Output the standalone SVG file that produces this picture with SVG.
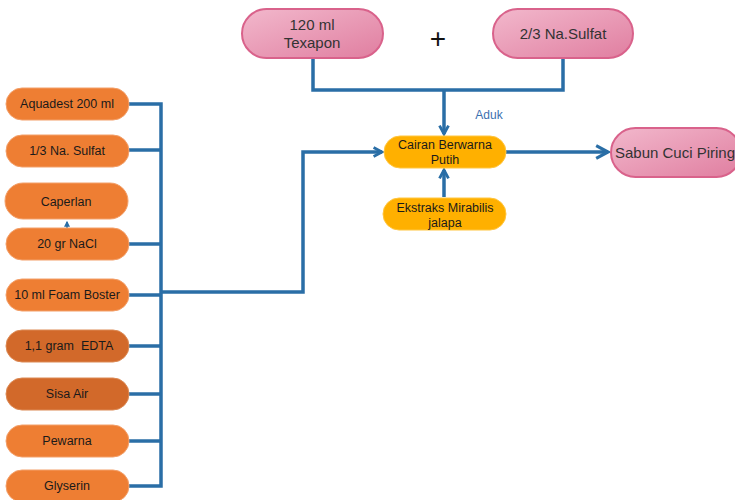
<svg xmlns="http://www.w3.org/2000/svg" width="735" height="500" viewBox="0 0 735 500">
<style>
.o{fill:#EE7E33;stroke:#f3a06a;stroke-width:1}
.d{fill:#D2692A;stroke:#dc8a55;stroke-width:1}
.y{fill:#FFB000;stroke:#ffc640;stroke-width:1}
.p{fill:url(#pg);stroke:#d9628b;stroke-width:2}
.t{font-family:"Liberation Sans",Arial,sans-serif;font-size:12.5px;fill:#1a1a1a;text-anchor:middle}
.tp{font-family:"Liberation Sans",Arial,sans-serif;font-size:15px;fill:#333;text-anchor:middle}
.c{fill:none;stroke:#2A6EA6;stroke-width:3.5}
</style>
<defs>
<linearGradient id="pg" x1="0" y1="0" x2="1" y2="1">
<stop offset="0" stop-color="#f2b8cc"/>
<stop offset="1" stop-color="#e07ea0"/>
</linearGradient>
<marker id="ah" viewBox="0 0 10 10" refX="8.5" refY="5" markerWidth="4.5" markerHeight="4.5" orient="auto" markerUnits="strokeWidth">
<path d="M1,1 L8.5,5 L1,9" fill="none" stroke="#2A6EA6" stroke-width="2"/>
</marker>
<marker id="ah2" viewBox="0 0 10 10" refX="8.5" refY="5" markerWidth="3.2" markerHeight="3.2" orient="auto" markerUnits="strokeWidth">
<path d="M1,1 L8.5,5 L1,9" fill="none" stroke="#2A6EA6" stroke-width="2.5"/>
</marker>
<marker id="ah3" viewBox="0 0 10 10" refX="8" refY="5" markerWidth="4" markerHeight="4" orient="auto" markerUnits="strokeWidth">
<path d="M0,0 L10,5 L0,10 Z" fill="#2A6EA6"/>
</marker>
</defs>
<g id="connectors">
<path class="c" d="M129,104 H161 V486 H129"/>
<path class="c" d="M129,150 H161"/>
<path class="c" d="M129,244 H161"/>
<path class="c" d="M129,295 H161"/>
<path class="c" d="M129,346 H161"/>
<path class="c" d="M129,394 H161"/>
<path class="c" d="M129,441 H161"/>
<path class="c" d="M161,292 H303 V152 H382" marker-end="url(#ah2)"/>
<path class="c" d="M313,58 V90 H563 V58"/>
<path class="c" d="M444,90 V134" marker-end="url(#ah2)"/>
<path class="c" d="M444,197 V170" marker-end="url(#ah2)"/>
<path class="c" d="M506,152 H608" marker-end="url(#ah)"/>
<path d="M67,228 V222" fill="none" stroke="#2A6EA6" stroke-width="1.5" marker-end="url(#ah3)"/>
</g>
<g id="aquadest"><rect class="o" x="6" y="88" width="123" height="32" rx="16"/><text class="t" x="67" y="108">Aquadest 200 ml</text></g>
<g id="nasulfat13"><rect class="o" x="6" y="135" width="123" height="32" rx="16"/><text class="t" x="67" y="155">1/3 Na. Sulfat</text></g>
<g id="caperlan"><rect class="o" x="5" y="183" width="123" height="36" rx="18"/><text class="t" x="66" y="206">Caperlan</text></g>
<g id="nacl"><rect class="o" x="6" y="228" width="123" height="32" rx="16"/><text class="t" x="67" y="248">20 gr NaCl</text></g>
<g id="foam"><rect class="o" x="6" y="279" width="123" height="32" rx="16"/><text class="t" x="67" y="299">10 ml Foam Boster</text></g>
<g id="edta"><rect class="d" x="6" y="330" width="123" height="32" rx="16"/><text class="t" x="69" y="350" xml:space="preserve">1,1 gram  EDTA</text></g>
<g id="sisaair"><rect class="d" x="6" y="378" width="123" height="32" rx="16"/><text class="t" x="67" y="398">Sisa Air</text></g>
<g id="pewarna"><rect class="o" x="6" y="425" width="123" height="32" rx="16"/><text class="t" x="67" y="445">Pewarna</text></g>
<g id="glyserin"><rect class="o" x="6" y="470" width="123" height="32" rx="16"/><text class="t" x="67" y="490">Glyserin</text></g>
<g id="texapon"><rect class="p" x="242" y="9" width="141" height="49" rx="24.5"/><text class="tp" x="312" y="30">120 ml</text><text class="tp" x="312" y="48">Texapon</text></g>
<g id="plus"><text x="438" y="48" font-family="Liberation Sans,Arial,sans-serif" font-size="28" fill="#111" text-anchor="middle">+</text></g>
<g id="nasulfat23"><rect class="p" x="493" y="9" width="140" height="49" rx="24.5"/><text class="tp" x="563" y="39" font-size="14">2/3 Na.Sulfat</text></g>
<g id="aduk"><text x="489" y="119" font-family="Liberation Sans,Arial,sans-serif" font-size="12" fill="#3B70B0" text-anchor="middle">Aduk</text></g>
<g id="cairan"><rect class="y" x="384" y="136" width="122" height="32" rx="16"/><text class="t" x="445" y="149">Cairan Berwarna</text><text class="t" x="445" y="164">Putih</text></g>
<g id="ekstraks"><rect class="y" x="383" y="198" width="123" height="32" rx="16"/><text class="t" x="445" y="212">Ekstraks Mirabilis</text><text class="t" x="445" y="227">jalapa</text></g>
<g id="sabun"><rect class="p" x="611" y="128" width="130" height="49" rx="24.5"/><text class="tp" x="675" y="158" font-size="14">Sabun Cuci Piring</text></g>
</svg>
